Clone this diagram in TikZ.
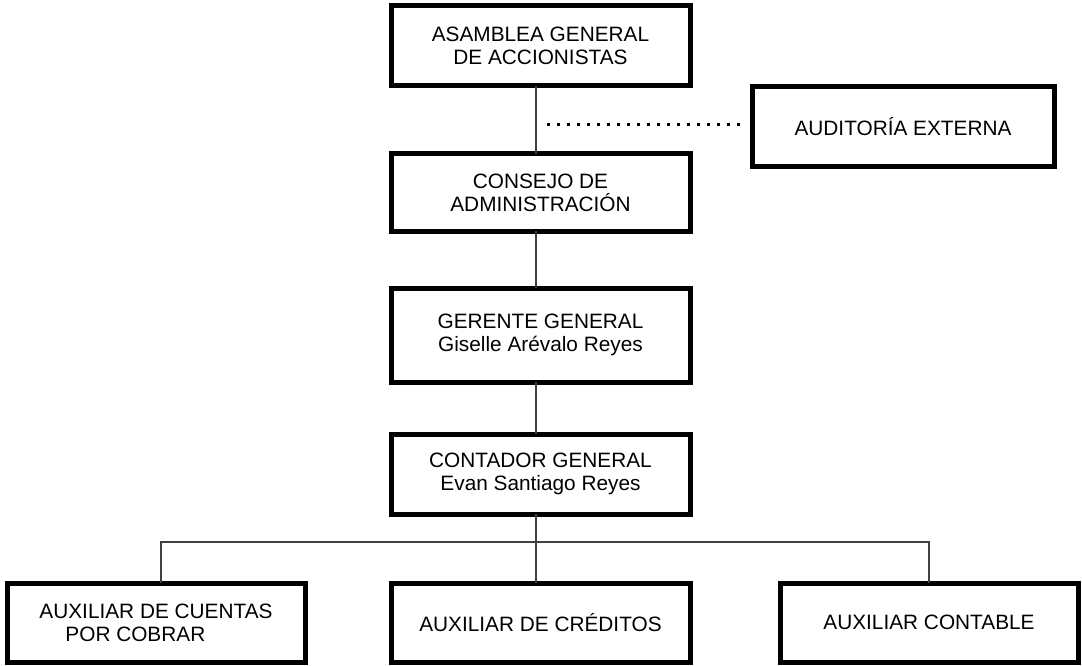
\documentclass[tikz,border=0pt]{standalone}
\usepackage{fontspec}
\setmainfont{Liberation Sans}
\begin{document}
\begin{tikzpicture}[x=1pt,y=-1pt,
  box/.style={draw=black, line width=5pt, inner sep=0pt, outer sep=0pt, align=center,
    font=\fontsize{20.8}{23}\selectfont},
  link/.style={draw=black!75, line width=1.2pt},
  dotline/.style={draw=black, line width=3pt, dash pattern=on 3pt off 7pt}]
\path[use as bounding box] (0,0) rectangle (1082,666);

\node[box, minimum width=299pt, minimum height=80pt] (asamblea) at (540.5,46) {ASAMBLEA GENERAL\\DE ACCIONISTAS};
\node[box, minimum width=299pt, minimum height=77pt] (consejo) at (540.5,192.5) {CONSEJO DE\\ADMINISTRACIÓN};
\node[box, minimum width=299pt, minimum height=94pt] (gerente) at (540.5,335) {GERENTE GENERAL\\Giselle Arévalo Reyes};
\node[box, minimum width=299pt, minimum height=80pt] (contador) at (540.5,474) {CONTADOR GENERAL\\Evan Santiago Reyes};
\node[box, minimum width=302pt, minimum height=80pt] (auditoria) at (903,127) {AUDITORÍA EXTERNA};
\node[box, minimum width=298pt, minimum height=79pt, align=left] (aux1) at (156,622.5) {AUXILIAR DE CUENTAS\\\hspace*{26pt}POR COBRAR};
\node[box, minimum width=299pt, minimum height=79pt] (aux2) at (540.5,622.5) {AUXILIAR DE CRÉDITOS};
\node[box, minimum width=298pt, minimum height=79pt] (aux3) at (929,622.5) {AUXILIAR CONTABLE};

\coordinate (spine) at (536,0);
\coordinate (b1) at (161,542);
\coordinate (b3) at (929,542);
\coordinate (d1) at (547,125);

\draw[link] (asamblea.south -| spine) -- (consejo.north -| spine);
\draw[link] (consejo.south -| spine) -- (gerente.north -| spine);
\draw[link] (gerente.south -| spine) -- (contador.north -| spine);
\draw[link] (contador.south -| spine) -- (aux2.north -| spine);
\draw[link] (aux1.north -| b1) -- (b1) -- (b3) -- (aux3.north);
\draw[dotline] (d1) -- ([xshift=-12pt,yshift=2pt]auditoria.west);
\end{tikzpicture}
\end{document}
